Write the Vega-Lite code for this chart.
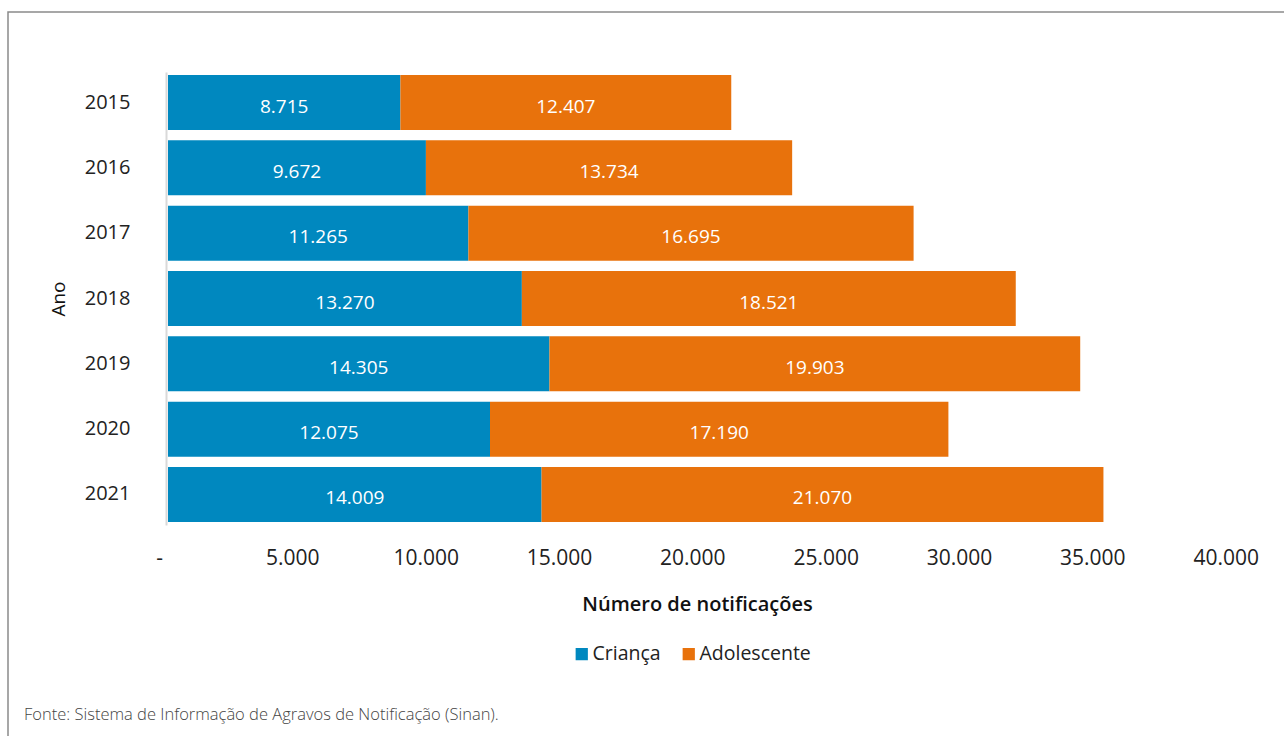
{
  "$schema": "https://vega.github.io/schema/vega-lite/v6.json",
  "width": 1290,
  "height": 740,
  "autosize": {"type": "none"},
  "padding": {"left": 8, "top": 12, "right": 0, "bottom": 0},
  "background": "white",
  "title": {
    "text": "Fonte: Sistema de Informação de Agravos de Notificação (Sinan).",
    "orient": "bottom",
    "anchor": "start",
    "frame": "group",
    "dx": 16,
    "offset": -45,
    "fontSize": 16.5,
    "fontWeight": 300,
    "color": "#444444",
    "font": "Open Sans"
  },
  "data": {
    "values": [
      {"ano": "2015", "categoria": "Criança", "valor": 8715},
      {"ano": "2015", "categoria": "Adolescente", "valor": 12407},
      {"ano": "2016", "categoria": "Criança", "valor": 9672},
      {"ano": "2016", "categoria": "Adolescente", "valor": 13734},
      {"ano": "2017", "categoria": "Criança", "valor": 11265},
      {"ano": "2017", "categoria": "Adolescente", "valor": 16695},
      {"ano": "2018", "categoria": "Criança", "valor": 13270},
      {"ano": "2018", "categoria": "Adolescente", "valor": 18521},
      {"ano": "2019", "categoria": "Criança", "valor": 14305},
      {"ano": "2019", "categoria": "Adolescente", "valor": 19903},
      {"ano": "2020", "categoria": "Criança", "valor": 12075},
      {"ano": "2020", "categoria": "Adolescente", "valor": 17190},
      {"ano": "2021", "categoria": "Criança", "valor": 14009},
      {"ano": "2021", "categoria": "Adolescente", "valor": 21070}
    ]
  },
  "transform": [
    {
      "stack": "valor",
      "groupby": ["ano"],
      "sort": [{"field": "categoria", "order": "descending"}],
      "as": ["x0", "x1"]
    },
    {"calculate": "(datum.x0 + datum.x1) / 2", "as": "xmid"}
  ],
  "encoding": {
    "y": {
      "field": "ano",
      "type": "nominal",
      "sort": "ascending",
      "scale": {"range": [60, 513], "paddingInner": 0.158, "paddingOuter": 0.046},
      "axis": {
        "orient": "left",
        "offset": -158,
        "title": "Ano",
        "titleFontSize": 19,
        "titleFontWeight": "normal",
        "titleColor": "#111111",
        "titlePadding": 16,
        "labelFontSize": 20,
        "labelFontWeight": "normal",
        "labelColor": "#222222",
        "labelPadding": 36,
        "ticks": false,
        "tickSize": 0,
        "domainColor": "#d9d9d9",
        "domainWidth": 2,
        "grid": false
      }
    }
  },
  "layer": [
    {
      "mark": {"type": "bar"},
      "encoding": {
        "x": {
          "field": "x0",
          "type": "quantitative",
          "scale": {"domain": [-6000, 42375], "zero": false, "nice": false},
          "axis": {
            "orient": "bottom",
            "offset": -207,
            "values": [0, 5000, 10000, 15000, 20000, 25000, 30000, 35000, 40000],
            "labelExpr": "datum.value === 0 ? '-' : replace(format(datum.value, ','), ',', '.')",
            "labelFontSize": 21,
            "labelFontWeight": "normal",
            "labelColor": "#222222",
            "labelPadding": 2,
            "labelOffset": -9,
            "ticks": false,
            "tickSize": 0,
            "domain": false,
            "grid": false,
            "title": "Número de notificações",
            "titleFontSize": 20,
            "titleFontWeight": 600,
            "titleColor": "#111111",
            "titleX": 689,
            "titleY": 59,
            "titleBaseline": "middle",
            "titleAnchor": null
          }
        },
        "x2": {"field": "x1"},
        "color": {
          "field": "categoria",
          "type": "nominal",
          "scale": {"domain": ["Criança", "Adolescente"], "range": ["#0088BF", "#E8720C"]},
          "legend": {
            "orient": "none",
            "legendX": 564,
            "legendY": 632,
            "direction": "horizontal",
            "title": null,
            "symbolType": "square",
            "symbolSize": 150,
            "symbolStrokeWidth": 0,
            "labelFontSize": 19.5,
            "labelFontWeight": "normal",
            "labelColor": "#222222",
            "labelOffset": 1,
            "columnPadding": 18,
            "padding": 0
          }
        }
      }
    },
    {
      "mark": {"type": "text", "color": "white", "fontSize": 19, "fontWeight": "normal", "baseline": "middle", "dy": 4, "align": "center"},
      "encoding": {
        "x": {"field": "xmid", "type": "quantitative"},
        "text": {"field": "valor", "type": "quantitative", "format": ","}
      }
    }
  ],
  "config": {
    "font": "Open Sans",
    "locale": {"number": {"decimal": ",", "thousands": ".", "grouping": [3], "currency": ["R$", ""]}},
    "view": {"stroke": "#8a8a8a", "strokeWidth": 1.5}
  }
}
